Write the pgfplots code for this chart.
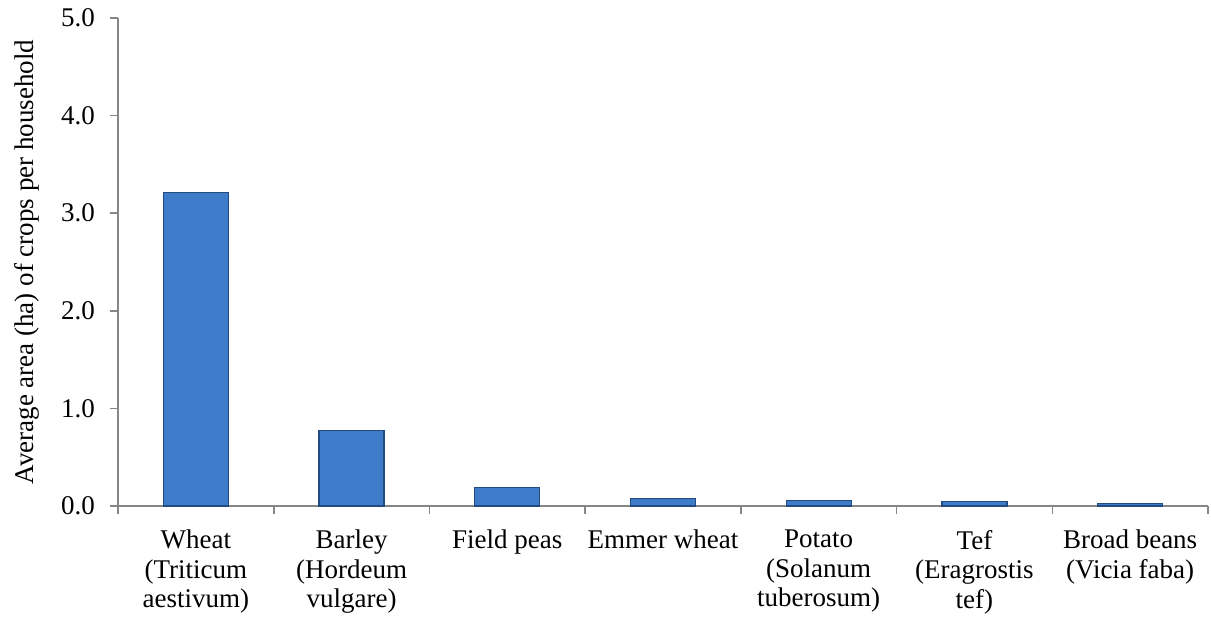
\documentclass[border=0pt]{standalone}
\usepackage{pgfplots}
\pgfplotsset{compat=1.18}
\usepackage{fontspec}
\setmainfont{Liberation Serif}
\definecolor{axisgray}{RGB}{134,134,134}
\definecolor{barmid}{RGB}{62,123,201}
\definecolor{baredge}{RGB}{36,74,130}
\begin{document}
\begin{tikzpicture}
\begin{axis}[
    name=ax,
    scale only axis,
    width=545pt, height=244pt,
    xmin=-0.5, xmax=6.5,
    ymin=0, ymax=5,
    axis lines*=left,
    axis line style={axisgray, line width=0.8pt},
    ytick={0,1,2,3,4,5},
    yticklabel style={font=\fontsize{13.5}{15}\selectfont, xshift=-4pt,
        /pgf/number format/fixed, /pgf/number format/fixed zerofill,
        /pgf/number format/precision=1},
    xtick={0,...,6},
    xticklabels={Wheat\\(Triticum\\aestivum), Barley\\(Hordeum\\vulgare), Field peas, Emmer wheat, Potato\\(Solanum\\tuberosum), Tef\\(Eragrostis\\tef), Broad beans\\(Vicia faba)},
    xticklabel style={align=center, font=\fontsize{13.5}{14.8}\selectfont, yshift=-4.5pt},
    /pgf/number format/assume math mode=true,
    major x tick style={draw=none},
    minor xtick={-0.5,0.5,...,6.5},
    minor x tick style={axisgray, line width=0.8pt},
    minor tick length=4pt,
    major tick length=4pt,
    ytick style={axisgray, line width=0.8pt},
    tick align=outside,
    ylabel={Average area (ha) of crops per household},
    ylabel style={font=\fontsize{13.5}{15}\selectfont, yshift=4pt},
    clip=false,
]
\addplot[ybar, bar width=32.5pt, draw=baredge, line width=0.6pt, fill=barmid]
    coordinates {(0,3.21) (1,0.77) (2,0.19) (3,0.08) (4,0.06) (5,0.05) (6,0.025)};
\end{axis}
\path ([xshift=-59pt,yshift=-55.5pt]ax.south west) rectangle ([xshift=1.5pt,yshift=9pt]ax.north east);
\end{tikzpicture}
\end{document}
